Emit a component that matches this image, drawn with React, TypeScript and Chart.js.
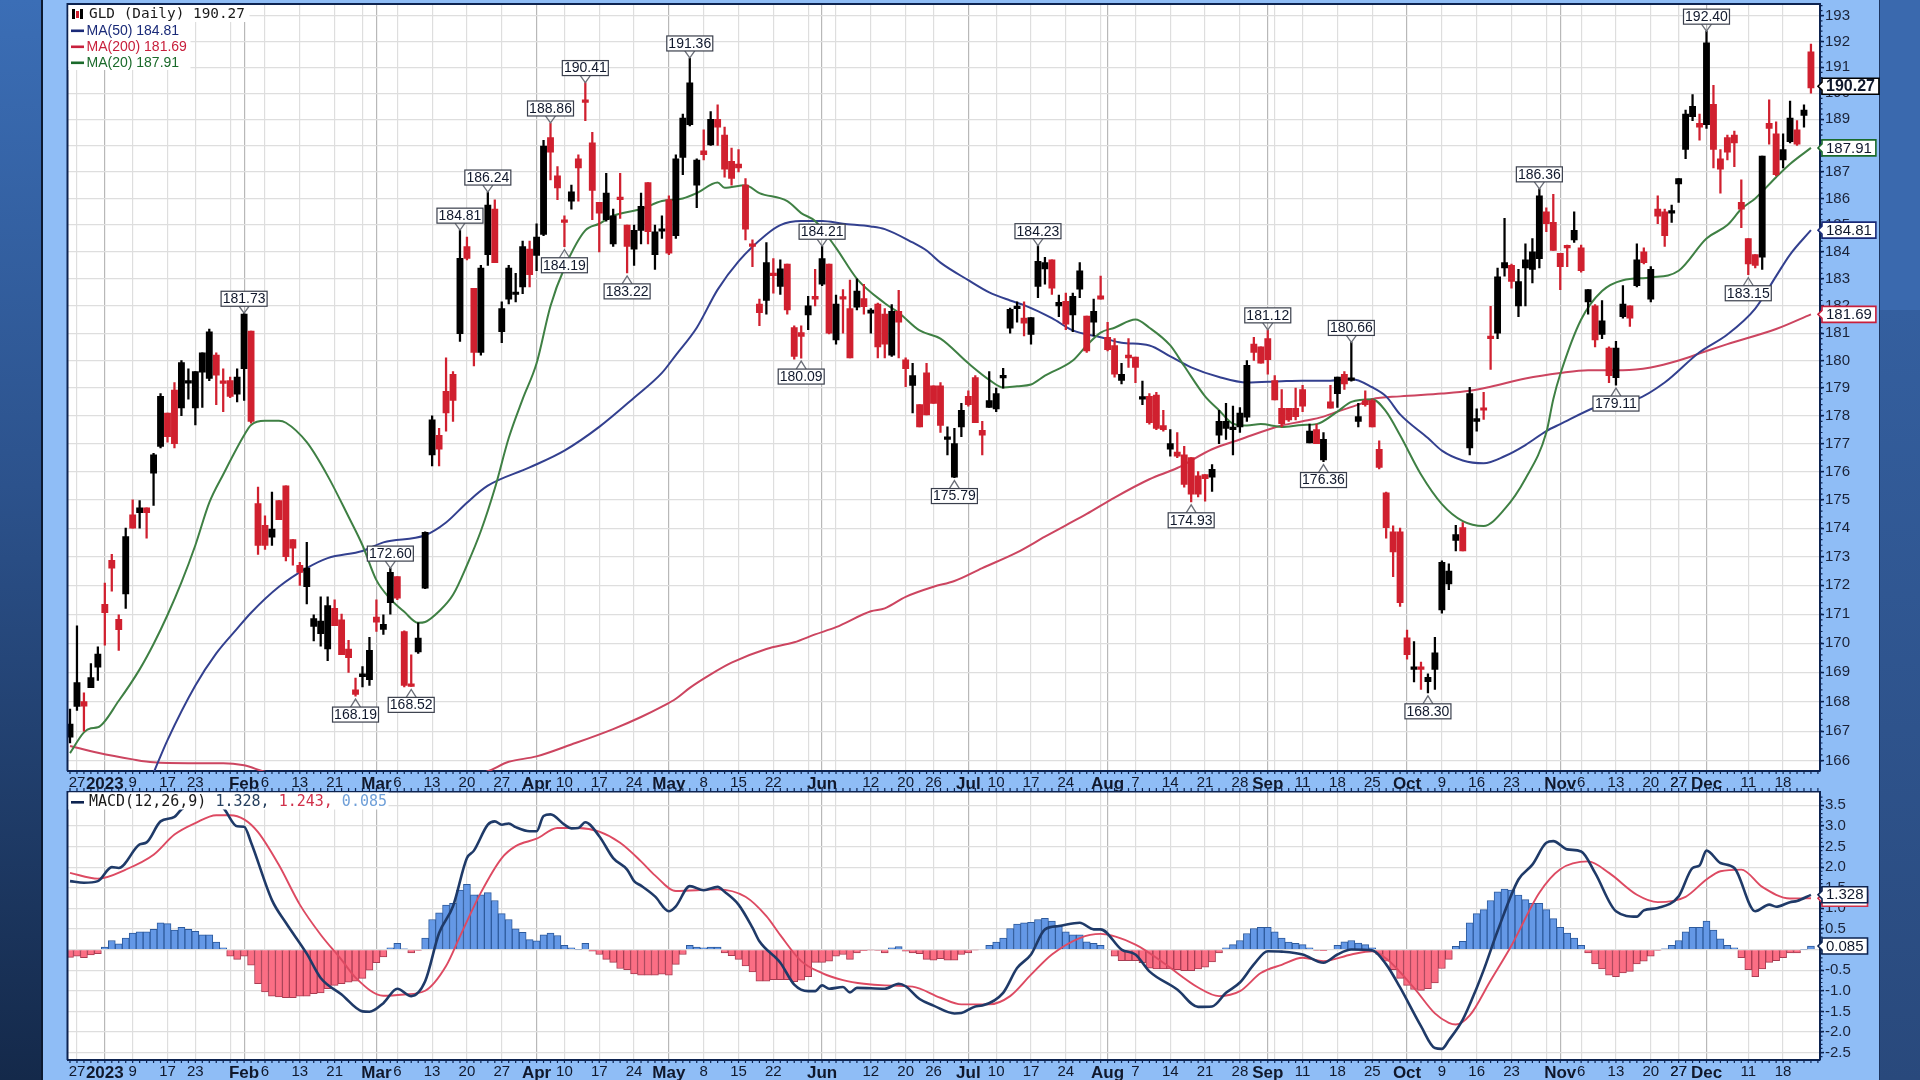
import { useEffect, useRef } from 'react'
import { Chart, registerables } from 'chart.js'

Chart.register(...registerables)

// candles, one entry per trading day from 2022-12-23 to 2023-12-22
const opens = [
  166.8,167.84,168,168.48,169.18,171.34,172.87,170.82,171.7,174.47,
  174.55,174.72,175.95,176.9,178.1,178.93,178.28,179.18,178.28,179.58,
  179.35,180.2,179.22,179.27,178.78,179.7,181.08,174.87,174.1,173.68,
  174.97,175.5,173.6,172.7,171.95,170.58,170.33,169.8,171.2,170.8,
  169.8,168.4,168.85,168.75,170.9,170.47,171.4,172.3,170.4,168.58,
  169.7,171.9,176.6,177.3,178.88,179.5,180.98,184.2,182.65,180.3,
  183.9,185.6,181.05,182.25,182.42,182.7,184.1,183.87,184.65,188.3,
  186.85,185.2,185.9,187.5,189.72,188.1,185.85,185.2,184.3,186.05,
  185,184.1,184.8,186.6,183.9,184.77,185.95,184.6,187.55,188.8,
  186.5,187.8,188.02,189,188.4,187.4,187.3,186.5,184.3,182.07,
  182.2,183.2,182.72,183.55,181.2,181.02,181.67,182.35,182.8,183.55,
  180.75,182.3,181.9,181.95,182.27,181.73,182.07,181.7,180.2,181.8,
  180.03,179.1,178.4,179.55,179.08,179.08,177.15,175.8,177.6,178.7,
  179.38,177.48,178.3,178.25,179.37,181.18,181.9,181.55,180.95,182.72,
  183.37,183.7,182,182.17,181.67,182.62,181.63,181.4,182.37,180.85,
  180.55,179.28,180.2,180.13,178.6,178.7,178.75,177.65,176.8,176.7,
  176.6,176.5,175.85,175.9,175.8,177.3,177.55,177.5,177.6,177.95,
  180.6,180.5,180.8,179.27,178.27,178.27,178.27,178.95,177.03,177.5,
  176.42,178.5,178.8,179.5,179.28,177.8,178.55,178.55,176.8,175.25,
  173.87,173.87,170.18,169.1,169.17,168.68,169.1,171.15,172.05,173.57,
  174.02,176.85,177.8,178.25,180.85,181,183.4,183.5,182,183.4,
  183.35,183.75,185.5,185.1,183.95,184.2,184.45,184.15,182.15,182,
  180.95,180.45,179.38,181.6,182,182.75,184,182.25,185.6,185.5,
  185.45,186.55,187.85,189.1,188.85,188.8,189.57,187.5,188.3,188.4,
  185.85,184.5,183.9,183.8,188.85,188.45,187.45,188.15,188.6,189.15,191.6,
]
const closes = [
  167.24,168.65,167.85,168.82,169.62,171.05,172.6,170.46,173.7,174,
  174.72,174.55,176.6,178.7,177.25,177,179.93,179.27,179.6,180.28,
  181.05,179.47,179.17,178.7,179.4,181.7,177.8,173.39,173.39,173.97,
  174.3,173,173.3,172.45,172.6,170.85,170.76,171.3,170.6,169.6,
  169.5,168.25,168.95,169.75,170.72,170.65,172.45,171.55,168.55,168.52,
  170.17,173.85,177.85,176.8,178.1,178.55,183.76,183.76,180.3,183.4,
  185.75,183.6,181.9,183.4,182.5,184.2,183.15,184.55,187.98,187.75,
  186.4,185.1,186.25,187.15,189.65,186.3,185.45,186.2,185.35,185.95,
  184.2,184.8,185.7,184.75,184.75,184.82,183.95,187.5,189.05,190.4,
  187.45,187.65,189,188.7,187.1,186.75,187.15,184.85,184.2,181.75,
  183.6,183.12,183.37,181.85,180.15,180.88,182,182.25,183.75,181,
  182.07,182.25,180.1,182.55,181.97,181.85,180.5,180.6,181.8,181.4,
  179.7,179.45,177.6,178.03,178.45,177.65,177.2,177,178.2,178.4,
  177.75,177.3,178.55,178.8,179.42,181.87,181.97,181.37,181.57,183.65,
  183.6,182.65,182.13,181.33,182.35,183.3,180.35,181.8,182.25,180.4,
  179.5,179.5,180.1,179.75,178.65,177.75,177.55,177.5,177,176.55,
  175.55,175.2,175.2,175.75,176.08,177.8,177.8,177.55,178.1,179.83,
  180.3,179.9,180.03,178.57,177.72,177.85,177.97,178.35,177.45,177,
  177.15,178.27,179.4,179.15,179.33,177.97,178.4,177.6,176.15,174.02,
  173.17,171.4,169.6,169.15,169.1,168.83,169.67,172.8,172.5,173.77,
  173.2,178.8,177.9,178.2,180.8,183.07,183.6,182.9,182.9,183.7,
  184,186.1,185.05,184.05,183.45,184.15,184.8,183.3,182.6,180.75,
  181.45,179.45,180.45,182.07,181.55,183.7,183.6,183.35,185.33,184.6,
  185.5,186.75,189.2,189.5,188.7,191.95,187.85,187.1,187.75,188.1,
  185.6,183.55,183.5,187.6,188.65,186.9,187.85,189.05,188.05,189.35,190.2,
]
const highs = [
  167.75,170.6,168.3,169.3,169.87,172.08,173.08,170.98,174,175,
  174.97,174.72,176.65,178.8,178.1,179.2,180,179.7,179.6,180.28,
  181.15,180.28,179.7,179.4,179.7,181.73,181.08,175.45,174.43,175.27,
  174.97,175.5,173.6,172.8,173.5,170.98,171.6,171.6,171.5,171,
  170.1,168.8,169.2,170.2,171.5,170.98,172.6,172.3,170.42,169.6,
  170.7,173.87,178,177.55,180.1,179.6,184.81,184.55,182.65,183.5,
  186.24,185.95,182.15,183.5,183.2,184.4,184.4,185.05,188.2,188.86,
  187.2,185.35,186.5,187.65,190.41,188.5,185.85,186.95,185.6,186.95,
  185,185,186.2,186.6,185,185.35,186.1,187.65,189.2,191.36,
  187.5,188.6,189.3,189.55,188.7,187.9,187.85,186.75,184.45,182.25,
  184.35,183.75,183.7,183.55,181.27,181.27,182.35,183.35,184.21,183.55,
  182.4,182.6,182.95,183,182.8,181.9,182.1,181.9,182.05,182.57,
  180.1,179.9,178.4,179.9,179.08,179.2,177.6,177.55,178.45,178.9,
  179.45,177.8,179.6,179,179.72,181.92,182.15,182.15,181.57,184.23,
  183.8,183.7,182.4,182.47,182.47,183.6,181.63,182.25,183.1,181.4,
  180.8,179.9,180.8,180.13,179.25,178.8,178.85,178.2,177.5,177.4,
  176.9,176.5,176,175.9,176.25,178.2,178.45,178.35,178.3,180,
  180.85,180.5,181.12,179.45,178.95,178.27,179,179.1,177.7,177.7,
  177.4,179.1,179.4,179.6,180.66,178.45,178.9,178.6,177.1,175.27,
  174.08,174,170.45,170.05,169.35,168.95,170.2,172.85,172.75,174.1,
  174.2,179.03,178.25,178.85,181.98,183.4,185.25,183.55,183.35,184.3,
  184.5,186.36,185.65,186.15,183.95,184.25,185.5,184.25,182.6,182.05,
  182.2,180.5,180.7,182.75,182,184.3,184.15,183.45,186.1,185.6,
  185.75,186.75,189.35,189.95,189.2,192.4,190.3,187.85,188.4,188.55,
  186.7,184.5,183.9,187.6,189.75,188.9,188.45,189.7,188.95,189.55,191.9,
]
const lows = [
  166.6,167.7,167,168.48,168.72,169.93,171.8,169.75,171.2,174,
  174,173.65,174.8,176.85,177.05,176.85,178,178.6,177.67,178.3,
  179.27,178.4,178.15,178.65,178.5,178.55,177.73,173.08,173.25,173.39,
  174.3,172.85,172.7,172,171.35,170.08,169.9,169.4,170.6,169.6,
  169,168.19,168.5,168.55,170.4,170.3,171,171.5,168.5,168.52,
  169.65,171.88,176.2,176.2,177.45,177.8,180.7,183.7,179.8,180.2,
  183.5,183.6,180.65,182.07,182.15,182.45,182.7,183.3,184.6,186.7,
  185.95,184.19,185.6,185.9,188.95,185.2,184,185.15,184.2,185.25,
  183.22,183.5,184.3,184.3,183.35,184.5,183.9,184.5,186.9,188.75,
  185.65,187.45,188,188,186.8,186.5,187,184.45,183.45,181.27,
  181.7,182.47,182.42,181.7,180.05,180.09,181.13,182,182.75,180.97,
  180.6,181,180.1,181.85,181.7,181,180.1,180.1,180.15,180.1,
  179.05,178.1,177.6,178.03,178.45,177.4,176.6,175.79,177.25,178.35,
  177.75,176.6,178.3,178.15,179,181,181.4,180.9,180.6,182.3,
  182.8,182.42,181.6,181.13,181.05,182.3,180.3,180.9,182.25,180.35,
  179.4,179.15,179.75,179.2,178.4,177.7,177.5,177.45,176.55,176.5,
  175.45,174.93,175.1,174.95,175.3,177,177.15,176.6,177.4,177.8,
  180,179.9,179.5,178.57,177.6,177.8,177.85,178.15,177.03,177,
  176.36,178.27,178.3,178.95,179.25,177.6,178.35,177.6,176.1,173.65,
  172.3,171.27,169.45,168.67,168.42,168.3,168.42,171.03,171.85,173.2,
  173.2,176.6,177.45,177.87,179.68,180.8,183.1,182.65,181.6,182,
  182.85,183.4,184.75,184.05,182.6,183.45,184.35,183.25,181.7,180.5,
  180.8,179.2,179.11,181.55,181.25,182.7,183.55,182.15,185.05,184.2,
  185.1,185.85,187.5,188.95,188.2,188.65,187.15,186.2,187.45,187.2,
  184.9,183.15,183.4,183.35,188.05,186.85,187.15,188.1,188,188.7,190,
]

// moving averages as [bar index, value]
const ma20: [number, number][] = [
  [0,166.26],[2,166.96],[3,167.1],[4,167.13],[7,168.03],[10,169.1],[12,169.97],[14,170.97],[16,172.1],[18,173.4],
  [20,174.9],[22,175.9],[25,177.3],[26,177.67],[28,177.82],[30,177.82],[31,177.75],[34,177.05],[37,175.85],[40,174.4],
  [42,173.4],[44,172.18],[46,171.53],[48,171.08],[50,170.7],[51,170.73],[53,171.1],[55,171.67],[57,172.7],[59,173.9],
  [61,175.4],[63,177.2],[65,178.6],[67,179.9],[69,182],[71,183.4],[74,184.8],[76,185.05],[78,185.35],[82,185.6],
  [85,185.9],[88,186],[90,186.2],[93,186.6],[94,186.4],[97,186.5],[99,186.2],[103,185.9],[105,185.45],[107,185.15],
  [110,184.15],[113,183],[117,182.1],[119,181.75],[122,181.1],[125,180.8],[129,179.9],[132,179.3],[134,179.02],[136,179.07],
  [138,179.13],[140,179.45],[144,180],[146,180.55],[148,181.02],[150,181.2],[153,181.5],[155,181.2],[158,180.55],[160,179.8],
  [163,178.7],[165,178.2],[167,177.72],[169,177.65],[171,177.7],[174,177.6],[177,177.67],[179,177.7],[182,178.15],[184,178.5],
  [187,178.6],[189,178.15],[191,177.3],[194,175.9],[197,174.85],[200,174.25],[203,174.08],[206,174.67],[209,175.75],[212,177.4],
  [213,178.6],[214,179.5],[217,181.5],[220,182.55],[223,182.95],[227,183.05],[231,183.3],[235,184.5],[238,185],[240,185.6],
  [242,186],[245,186.8],[247,187.3],[250,187.91],
]
const ma50: [number, number][] = [
  [12,165.6],[14,166.7],[18,168.55],[21,169.65],[24,170.5],[26,171.05],[30,171.95],[34,172.6],[37,172.95],
  [42,173.2],[45,173.5],[51,173.75],[54,174.2],[57,174.9],[60,175.5],[66,176.15],[71,176.75],[76,177.6],[81,178.65],
  [85,179.55],[87,180.2],[90,181.2],[93,182.6],[96,183.65],[100,184.65],[102,185],[105,185.15],[108,185.15],
  [111,185.05],[115,184.95],[117,184.85],[121,184.35],[123,184.05],[125,183.6],[129,182.95],[132,182.5],[135,182.2],[137,182.03],
  [141,181.55],[144,181.1],[148,180.85],[151,180.65],[155,180.55],[158,180.15],[161,179.75],[165,179.4],[169,179.2],[174,179.25],
  [177,179.27],[181,179.27],[184,179.33],[187,179.03],[189,178.7],[191,178.05],[195,177.2],[197,176.75],[200,176.4],[203,176.3],
  [206,176.55],[209,176.95],[212,177.45],[214,177.7],[219,178.3],[222,178.5],[225,178.6],[229,179.2],[234,180.3],[238,180.95],
  [242,181.9],[245,183.1],[247,183.9],[250,184.81],
]
const ma200: [number, number][] = [
  [0,166.5],[4,166.27],[9,166.05],[12,165.95],[17,165.92],[22,165.92],[25,165.85],[29,165.6],[59,165.6],[63,165.97],
  [67,166.15],[72,166.55],[78,167.07],[82,167.48],[85,167.83],[87,168.1],[89,168.47],[92,168.93],[95,169.33],[100,169.8],
  [104,170.03],[107,170.3],[110,170.55],[115,171.1],[117,171.2],[120,171.6],[124,171.95],[127,172.15],[131,172.6],[136,173.15],
  [140,173.7],[143,174.1],[146,174.5],[150,175.08],[155,175.73],[159,176.13],[164,176.8],[168,177.15],[174,177.65],[177,177.8],
  [180,177.97],[182,178.15],[185,178.4],[187,178.6],[191,178.7],[197,178.8],[201,178.9],[204,179.05],[209,179.35],[214,179.55],
  [218,179.65],[223,179.65],[227,179.75],[231,180],[235,180.35],[238,180.6],[245,181.15],[250,181.69],
]

// MACD panel
const macdHist = [
  -.19,-.16,-.2,-.13,-.1,.06,.22,.14,.28,.4,
  .43,.43,.49,.65,.63,.47,.54,.49,.44,.36,
  .36,.18,.04,-.16,-.24,-.16,-.38,-.83,-1.03,-1.13,
  -1.15,-1.17,-1.17,-1.13,-1.13,-1.07,-1.05,-.95,-.87,-.83,
  -.79,-.77,-.7,-.5,-.32,-.18,.04,.15,.02,-.08,
  -.02,.28,.73,.89,1.08,1.12,1.44,1.58,1.33,1.33,
  1.38,1.19,.87,.73,.5,.42,.24,.21,.36,.4,
  .34,.1,.04,.01,.15,-.04,-.12,-.24,-.31,-.46,
  -.49,-.59,-.62,-.62,-.62,-.6,-.62,-.36,-.12,.1,
  .06,.04,.06,.06,-.08,-.15,-.24,-.4,-.54,-.77,
  -.77,-.73,-.73,-.73,-.78,-.74,-.66,-.31,-.31,-.28,
  -.16,-.12,-.24,-.08,-.03,-.01,-.02,-.08,.04,.07,
  -.04,-.08,-.1,-.24,-.26,-.22,-.26,-.26,-.12,-.08,
  -.01,0,.1,.18,.28,.51,.62,.65,.66,.73,
  .76,.69,.57,.43,.36,.36,.19,.15,.1,0,
  -.16,-.27,-.27,-.27,-.32,-.45,-.47,-.47,-.47,-.49,
  -.51,-.51,-.47,-.43,-.3,-.08,.04,.12,.22,.39,
  .51,.54,.54,.43,.28,.18,.15,.12,.04,-.02,
  -.03,0,.1,.19,.22,.16,.12,.04,-.12,-.28,
  -.49,-.7,-.87,-.97,-.99,-.95,-.81,-.46,-.24,.08,
  .2,.65,.87,.97,1.19,1.4,1.47,1.44,1.32,1.21,
  1.12,1.12,.97,.75,.54,.4,.28,.1,-.08,-.35,
  -.47,-.62,-.66,-.57,-.53,-.35,-.28,-.16,-.02,.02,
  .1,.22,.43,.54,.54,.69,.47,.26,.1,.04,
  -.2,-.49,-.66,-.47,-.31,-.27,-.2,-.08,-.08,.01,.085,
]
const macdLine: [number, number][] = [
  [0,1.66],[2,1.62],[4,1.66],[6,2],[7,1.98],[10,2.55],[11,2.6],[13,3.11],[15,3.22],[16,3.4],
  [18,3.6],[20,3.64],[22,3.44],[24,2.99],[25,2.98],[26,2.6],[29,1.2],[31,.65],[34,-.1],[36,-.69],
  [39,-1.09],[42,-1.5],[43,-1.51],[45,-1.3],[47,-.95],[49,-1.13],[51,-.77],[53,.4],[55,1.05],[57,2.22],
  [58,2.4],[60,3.03],[61,3.11],[62,3.03],[63,3.06],[64,2.97],[66,2.87],[67,2.87],[68,3.24],[69,3.28],
  [71,3.03],[72,2.94],[73,2.95],[74,3.09],[76,2.75],[78,2.22],[80,1.94],[81,1.66],[82,1.55],[84,1.29],
  [86,.93],[87,1.05],[89,1.54],[91,1.44],[93,1.52],[94,1.4],[96,1.09],[98,.53],[99,.2],[102,-.32],
  [104,-.85],[106,-1.01],[107,-1.01],[108,-.87],[109,-.95],[111,-.91],[112,-1.04],[113,-.93],[117,-.95],[119,-.83],
  [120,-.89],[122,-1.2],[124,-1.36],[127,-1.55],[128,-1.54],[130,-1.38],[131,-1.36],[134,-1.05],[136,-.45],[138,-.12],
  [140,.49],[142,.57],[145,.65],[147,.49],[148,.49],[151,0],[153,-.12],[155,-.53],[159,-.97],[162,-1.39],
  [164,-1.38],[166,-1.05],[168,-.8],[170,-.36],[172,-.04],[174,-.05],[177,-.12],[180,-.32],[182,-.12],[184,0],
  [187,-.02],[189,-.36],[191,-.92],[194,-1.86],[196,-2.39],[197,-2.41],[198,-2.2],[200,-1.7],[202,-.93],[203,-.5],
  [205,.45],[208,1.7],[210,2.06],[212,2.59],[213,2.63],[215,2.43],[217,2.38],[219,1.86],[222,.93],[225,.8],
  [226,.95],[228,1.01],[231,1.29],[233,1.98],[234,2.04],[235,2.4],[237,2.1],[239,1.98],[242,.93],[244,1.09],
  [245,1.04],[247,1.15],[248,1.18],[250,1.328],
]
const signalLine: [number, number][] = [
  [0,1.86],[4,1.72],[8,1.94],[12,2.3],[15,2.79],[18,3.07],[21,3.26],[23,3.26],[25,3.16],[27,2.85],
  [30,2.05],[33,1.09],[36,.36],[39,-.25],[41,-.68],[45,-1.12],[48,-1.09],[51,-1],[54,-.4],[56,.32],
  [59,1.38],[62,2.22],[64,2.51],[67,2.69],[70,2.95],[73,2.95],[76,2.86],[79,2.59],[82,2.14],[84,1.8],
  [87,1.42],[93,1.46],[97,1.28],[100,.81],[102,.35],[105,-.28],[108,-.57],[111,-.74],[114,-.83],[117,-.87],
  [121,-.9],[125,-1.17],[128,-1.33],[132,-1.33],[135,-1.13],[138,-.61],[141,-.12],[145,.28],[148,.38],[153,.12],
  [157,-.32],[162,-.92],[165,-1.13],[168,-1.01],[171,-.57],[174,-.37],[177,-.2],[180,-.28],[184,-.12],[187,-.04],
  [189,-.22],[193,-.93],[196,-1.55],[198,-1.78],[199,-1.82],[201,-1.6],[204,-.75],[207,.1],[211,1.38],[214,1.95],
  [218,2.14],[221,1.86],[225,1.33],[228,1.15],[232,1.28],[235,1.7],[237,1.9],[240,1.94],[243,1.52],[247,1.24],[250,1.243],
]

// calendar axis
const xTickIndex = [
  1,5,9,14,18,25,28,33,38,44,47,52,57,62,67,71,76,81,86,91,96,101,108,115,120,124,129,133,138,143,
  149,153,158,163,168,172,177,182,187,192,197,202,207,214,217,222,227,231,235,241,246,
]
const xTickLabels = [
  '27','2023','9','17','23','Feb','6','13','21','Mar','6','13','20','27','Apr','10','17','24','May','8','15','22','Jun','12','20','26','Jul','10','17','24',
  'Aug','7','14','21','28','Sep','11','18','25','Oct','9','16','23','Nov','6','13','20','27','Dec','11','18',
]
const monthIndex = [5,25,44,67,86,108,129,149,172,192,214,235]
const extraGridIndex = [23,42,106,110,148,173,212,231]

const priceTicks = [166,167,168,169,170,171,172,173,174,175,176,177,178,179,180,181,182,183,184,185,186,187,188,189,190,191,192,193]
const macdTicks = [-2.5,-2,-1.5,-1,-.5,0,.5,1,1.5,2,2.5,3,3.5]

// boxed swing highs and lows
const highMarkIndex = [25,46,56,60,69,74,89,108,139,172,184,211,235]
const highMarkValue = [181.73,172.6,184.81,186.24,188.86,190.41,191.36,184.21,184.23,181.12,180.66,186.36,192.4]
const lowMarkIndex = [41,49,71,80,105,127,161,180,195,222,241]
const lowMarkValue = [168.19,168.52,184.19,183.22,180.09,175.79,174.93,176.36,168.3,179.11,183.15]

const NAVY = '#0d2350'
const CANDLE_RED = '#d0202f'
const MA20_COLOR = '#3f8044'
const MA50_COLOR = '#33408f'
const MA200_COLOR = '#cc4560'
const LABEL_FONT = '"Liberation Sans", Arial, sans-serif'
const MONO_FONT = '"DejaVu Sans Mono", monospace'

const X_MIN = -0.36
const X_MAX = 251.3

const toXY = (pts: [number, number][]) => pts.map(([x, y]) => ({ x, y }))

// the plot rectangles are fixed, so labels must not push them inwards
const clearPadding = (axis: any) => {
  axis.paddingTop = 0
  axis.paddingBottom = 0
  axis.paddingLeft = 0
  axis.paddingRight = 0
}

function xScaleOptions() {
  const gridIdx = [...xTickIndex, ...extraGridIndex]
  return {
    type: 'linear',
    min: X_MIN,
    max: X_MAX,
    offset: false,
    afterBuildTicks: (axis: any) => {
      axis.ticks = gridIdx.map((value) => ({ value }))
    },
    afterFit: (axis: any) => {
      axis.height = 20
      clearPadding(axis)
    },
    grid: {
      offset: false,
      drawTicks: false,
      lineWidth: 1.2,
      color: (c: any) => (monthIndex.includes(c.tick?.value) ? '#b8b8b8' : '#dedede'),
    },
    border: { color: NAVY, width: 2 },
    ticks: {
      autoSkip: false,
      maxRotation: 0,
      padding: 3,
      color: '#10182c',
      font: (c: any) =>
        monthIndex.includes(c.tick?.value)
          ? { family: LABEL_FONT, size: 17, weight: 'bold' }
          : { family: LABEL_FONT, size: 15 },
      callback: (v: number) => {
        const i = xTickIndex.indexOf(v)
        return i < 0 ? '' : xTickLabels[i]
      },
    },
  }
}

function yTickOptions(values: number[], format: (v: number) => string) {
  return {
    position: 'right',
    bounds: 'data',
    afterBuildTicks: (axis: any) => {
      axis.ticks = values.map((value) => ({ value }))
    },
    afterFit: (axis: any) => {
      axis.width = 59
      clearPadding(axis)
    },
    grid: { color: '#dedede', lineWidth: 1.2, tickColor: NAVY, tickLength: 4, tickWidth: 1.5 },
    border: { color: NAVY, width: 2 },
    ticks: {
      autoSkip: false,
      padding: 1,
      color: '#1a2238',
      font: { family: LABEL_FONT, size: 15 },
      callback: (v: number) => format(v),
    },
  }
}

function drawTag(ctx: any, right: number, y: number, text: string, color: string, bold = false) {
  const left = right + 2
  ctx.font = `${bold ? 'bold 16px' : '15px'} ${LABEL_FONT}`
  const w = ctx.measureText(text).width + 8
  ctx.beginPath()
  ctx.moveTo(left, y - 8)
  ctx.lineTo(left + w, y - 8)
  ctx.lineTo(left + w, y + 8)
  ctx.lineTo(left, y + 8)
  ctx.lineTo(left, y + 4)
  ctx.lineTo(left - 4, y)
  ctx.lineTo(left, y - 4)
  ctx.closePath()
  ctx.fillStyle = '#fff'
  ctx.fill()
  ctx.lineWidth = 1.6
  ctx.strokeStyle = color
  ctx.stroke()
  ctx.fillStyle = '#10182c'
  ctx.textAlign = 'center'
  ctx.textBaseline = 'middle'
  ctx.fillText(text, left + w / 2, y + 0.5)
}

function drawMark(ctx: any, x: number, y: number, text: string, above: boolean) {
  const apex = above ? y : y + 3
  const boxEdge = above ? y - 7 : y + 11
  ctx.beginPath()
  ctx.moveTo(x - 5, boxEdge)
  ctx.lineTo(x, apex)
  ctx.lineTo(x + 5, boxEdge)
  ctx.strokeStyle = '#6b6f78'
  ctx.lineWidth = 1.3
  ctx.stroke()
  const top = above ? boxEdge - 15 : boxEdge
  ctx.fillStyle = '#fff'
  ctx.fillRect(x - 23, top, 46, 15)
  ctx.strokeStyle = '#3a3f4c'
  ctx.lineWidth = 1.2
  ctx.strokeRect(x - 23, top, 46, 15)
  ctx.fillStyle = '#10182c'
  ctx.font = `14px ${LABEL_FONT}`
  ctx.textAlign = 'center'
  ctx.textBaseline = 'middle'
  ctx.fillText(text, x, top + 8)
}

// white plot area, the top and left edges, and the small day ticks along the axes
const panelFrame = {
  id: 'panelFrame',
  beforeDraw(chart: any) {
    const { ctx, chartArea: a } = chart
    ctx.save()
    ctx.fillStyle = '#fff'
    ctx.fillRect(a.left, a.top, a.right - a.left, a.bottom - a.top)
    ctx.restore()
  },
  afterDraw(chart: any, _args: any, opts: any) {
    const { ctx, chartArea: a, scales } = chart
    ctx.save()
    ctx.strokeStyle = NAVY
    ctx.lineWidth = 2
    ctx.beginPath()
    ctx.moveTo(a.left, a.bottom)
    ctx.lineTo(a.left, a.top)
    ctx.lineTo(a.right, a.top)
    ctx.stroke()
    ctx.lineWidth = 1.2
    ctx.beginPath()
    for (let i = 0; i <= 251; i++) {
      const x = scales.x.getPixelForValue(i)
      ctx.moveTo(x, a.bottom)
      ctx.lineTo(x, a.bottom + 3)
      if (opts.lowerEdge) {
        ctx.moveTo(x, a.bottom + 17)
        ctx.lineTo(x, a.bottom + 20)
      }
    }
    for (let v = opts.minorFrom; v <= opts.minorTo; v += opts.minorStep) {
      const y = scales.y.getPixelForValue(v)
      ctx.moveTo(a.right, y)
      ctx.lineTo(a.right + 2.5, y)
    }
    ctx.stroke()
    ctx.restore()
  },
}

const priceOverlay = {
  id: 'priceOverlay',
  afterDraw(chart: any) {
    const { ctx, chartArea: a, scales } = chart
    const { x: xs, y: ys } = scales
    ctx.save()

    highMarkIndex.forEach((i, n) =>
      drawMark(ctx, xs.getPixelForValue(i), ys.getPixelForValue(highMarkValue[n]), highMarkValue[n].toFixed(2), true))
    lowMarkIndex.forEach((i, n) =>
      drawMark(ctx, xs.getPixelForValue(i), ys.getPixelForValue(lowMarkValue[n]), lowMarkValue[n].toFixed(2), false))

    // legend block
    ctx.fillStyle = '#fff'
    ctx.fillRect(a.left + 1, a.top + 1, 181, 17)
    ctx.fillRect(a.left + 1, a.top + 18, 122, 48)
    ctx.fillStyle = '#000'
    ctx.fillRect(72, 9, 3, 10)
    ctx.fillRect(80, 9, 3, 10)
    ctx.fillStyle = CANDLE_RED
    ctx.fillRect(76, 11, 3, 7)
    ctx.textAlign = 'left'
    ctx.textBaseline = 'middle'
    ctx.fillStyle = '#1a1a1a'
    ctx.font = `14.4px ${MONO_FONT}`
    ctx.fillText('GLD (Daily) 190.27', 89, 14.5)
    const rows: [string, string, number][] = [
      ['MA(50) 184.81', '#1a2a78', 31],
      ['MA(200) 181.69', '#c8203c', 47],
      ['MA(20) 187.91', '#1a6a2a', 63],
    ]
    ctx.font = `14px ${LABEL_FONT}`
    rows.forEach(([text, color, y]) => {
      ctx.fillStyle = color
      ctx.fillRect(71, y - 1.5, 13, 2.6)
      ctx.fillText(text, 86.5, y)
    })

    drawTag(ctx, a.right, ys.getPixelForValue(190.27), '190.27', '#000', true)
    drawTag(ctx, a.right, ys.getPixelForValue(187.91), '187.91', '#1a6a2a')
    drawTag(ctx, a.right, ys.getPixelForValue(184.81), '184.81', '#1a2a78')
    drawTag(ctx, a.right, ys.getPixelForValue(181.69), '181.69', '#c8203c')
    ctx.restore()
  },
}

const macdOverlay = {
  id: 'macdOverlay',
  afterDraw(chart: any) {
    const { ctx, chartArea: a, scales } = chart
    ctx.save()
    ctx.fillStyle = '#fff'
    ctx.fillRect(a.left + 1, a.top + 1, 320, 17)
    ctx.fillStyle = NAVY
    ctx.fillRect(71, 10, 13, 2.6)
    ctx.font = `15px ${MONO_FONT}`
    ctx.textAlign = 'left'
    ctx.textBaseline = 'middle'
    const parts: [string, string][] = [
      ['MACD(12,26,9) ', '#1a1a1a'],
      ['1.328, ', '#27405f'],
      ['1.243, ', '#d0304a'],
      ['0.085', '#6f9fd8'],
    ]
    let x = 89
    parts.forEach(([text, color]) => {
      ctx.fillStyle = color
      ctx.fillText(text, x, 11.5)
      x += ctx.measureText(text).width
    })
    drawTag(ctx, a.right, scales.y.getPixelForValue(1.243), '1.243', '#d0304a')
    drawTag(ctx, a.right, scales.y.getPixelForValue(1.328), '1.328', '#0d2350')
    drawTag(ctx, a.right, scales.y.getPixelForValue(0.085), '0.085', '#0d2350')
    ctx.restore()
  },
}

function lineSet(label: string, pts: [number, number][], color: string, width: number, order: number) {
  return {
    type: 'line',
    label,
    data: toXY(pts),
    borderColor: color,
    borderWidth: width,
    pointRadius: 0,
    cubicInterpolationMode: 'monotone',
    order,
  }
}

export default function App() {
  const priceRef = useRef<HTMLCanvasElement>(null)
  const macdRef = useRef<HTMLCanvasElement>(null)

  useEffect(() => {
    if (!priceRef.current || !macdRef.current) return

    const candleColors = closes.map((c, i) => (c < opens[i] ? CANDLE_RED : '#000'))

    const priceChart = new Chart(priceRef.current, {
      type: 'bar',
      data: {
        datasets: [
          lineSet('MA(200)', ma200, MA200_COLOR, 2, 5),
          lineSet('MA(50)', ma50, MA50_COLOR, 2, 4),
          lineSet('MA(20)', ma20, MA20_COLOR, 2, 3),
          {
            label: 'wick',
            data: highs.map((h, i) => ({ x: i, y: [lows[i], h] })),
            backgroundColor: candleColors,
            barThickness: 1.6,
            grouped: false,
            order: 2,
          },
          {
            label: 'body',
            data: opens.map((o, i) => ({ x: i, y: [o, closes[i]] })),
            backgroundColor: candleColors,
            barThickness: 6.2,
            minBarLength: 2.5,
            grouped: false,
            order: 1,
          },
        ] as any,
      },
      options: {
        responsive: false,
        animation: false,
        devicePixelRatio: 1,
        layout: { autoPadding: false, padding: { left: 67.5, right: 41, top: 4, bottom: 0 } },
        scales: {
          x: xScaleOptions(),
          y: { ...yTickOptions(priceTicks, (v) => String(v)), type: 'logarithmic', min: 165.66, max: 193.46 },
        } as any,
        plugins: {
          legend: { display: false },
          tooltip: { enabled: false },
          panelFrame: { lowerEdge: true, minorFrom: 166, minorTo: 193.4, minorStep: 0.2 },
        } as any,
      },
      plugins: [panelFrame, priceOverlay],
    } as any)

    const macdChart = new Chart(macdRef.current, {
      type: 'bar',
      data: {
        datasets: [
          lineSet('Signal', signalLine, '#dd4a62', 1.9, 2),
          lineSet('MACD', macdLine, '#1f3a68', 2.6, 1),
          {
            label: 'Histogram',
            data: macdHist.map((v, i) => ({ x: i, y: v })),
            backgroundColor: macdHist.map((v) => (v < 0 ? '#fb6e84' : '#6498e6')),
            borderColor: macdHist.map((v) => (v < 0 ? '#a83c52' : '#2d5a9c')),
            borderWidth: 1,
            barThickness: 7,
            grouped: false,
            order: 3,
          },
        ] as any,
      },
      options: {
        responsive: false,
        animation: false,
        devicePixelRatio: 1,
        layout: { autoPadding: false, padding: { left: 67.5, right: 41, top: 0.5, bottom: 0 } },
        scales: {
          x: xScaleOptions(),
          y: { ...yTickOptions(macdTicks, (v) => v.toFixed(1)), type: 'linear', min: -2.68, max: 3.835 },
        } as any,
        plugins: {
          legend: { display: false },
          tooltip: { enabled: false },
          panelFrame: { lowerEdge: false, minorFrom: -2.6, minorTo: 3.8, minorStep: 0.1 },
        } as any,
      },
      plugins: [panelFrame, macdOverlay],
    } as any)

    return () => {
      priceChart.destroy()
      macdChart.destroy()
    }
  }, [])

  return (
    <div style={{ position: 'fixed', inset: 0, width: 1920, height: 1080, overflow: 'hidden', background: '#8fbdf6' }}>
      <div style={{ position: 'absolute', left: 0, top: 0, width: 41, height: 1080, background: 'linear-gradient(#3b6eb6, #2c528c 45%, #14294a)', borderRight: '2px solid #0c1a30' }} />
      <div style={{ position: 'absolute', left: 1879, top: 0, width: 41, height: 310, background: '#3a69ae', borderLeft: '1px solid #1c3560', boxSizing: 'border-box' }} />
      <div style={{ position: 'absolute', left: 1879, top: 310, width: 41, height: 770, background: 'linear-gradient(#345f9f, #29497c)', borderLeft: '1px solid #1c3560', boxSizing: 'border-box' }} />
      <canvas ref={priceRef} width={1920} height={791} style={{ position: 'absolute', left: 0, top: 0 }} />
      <canvas ref={macdRef} width={1920} height={289} style={{ position: 'absolute', left: 0, top: 791 }} />
    </div>
  )
}
